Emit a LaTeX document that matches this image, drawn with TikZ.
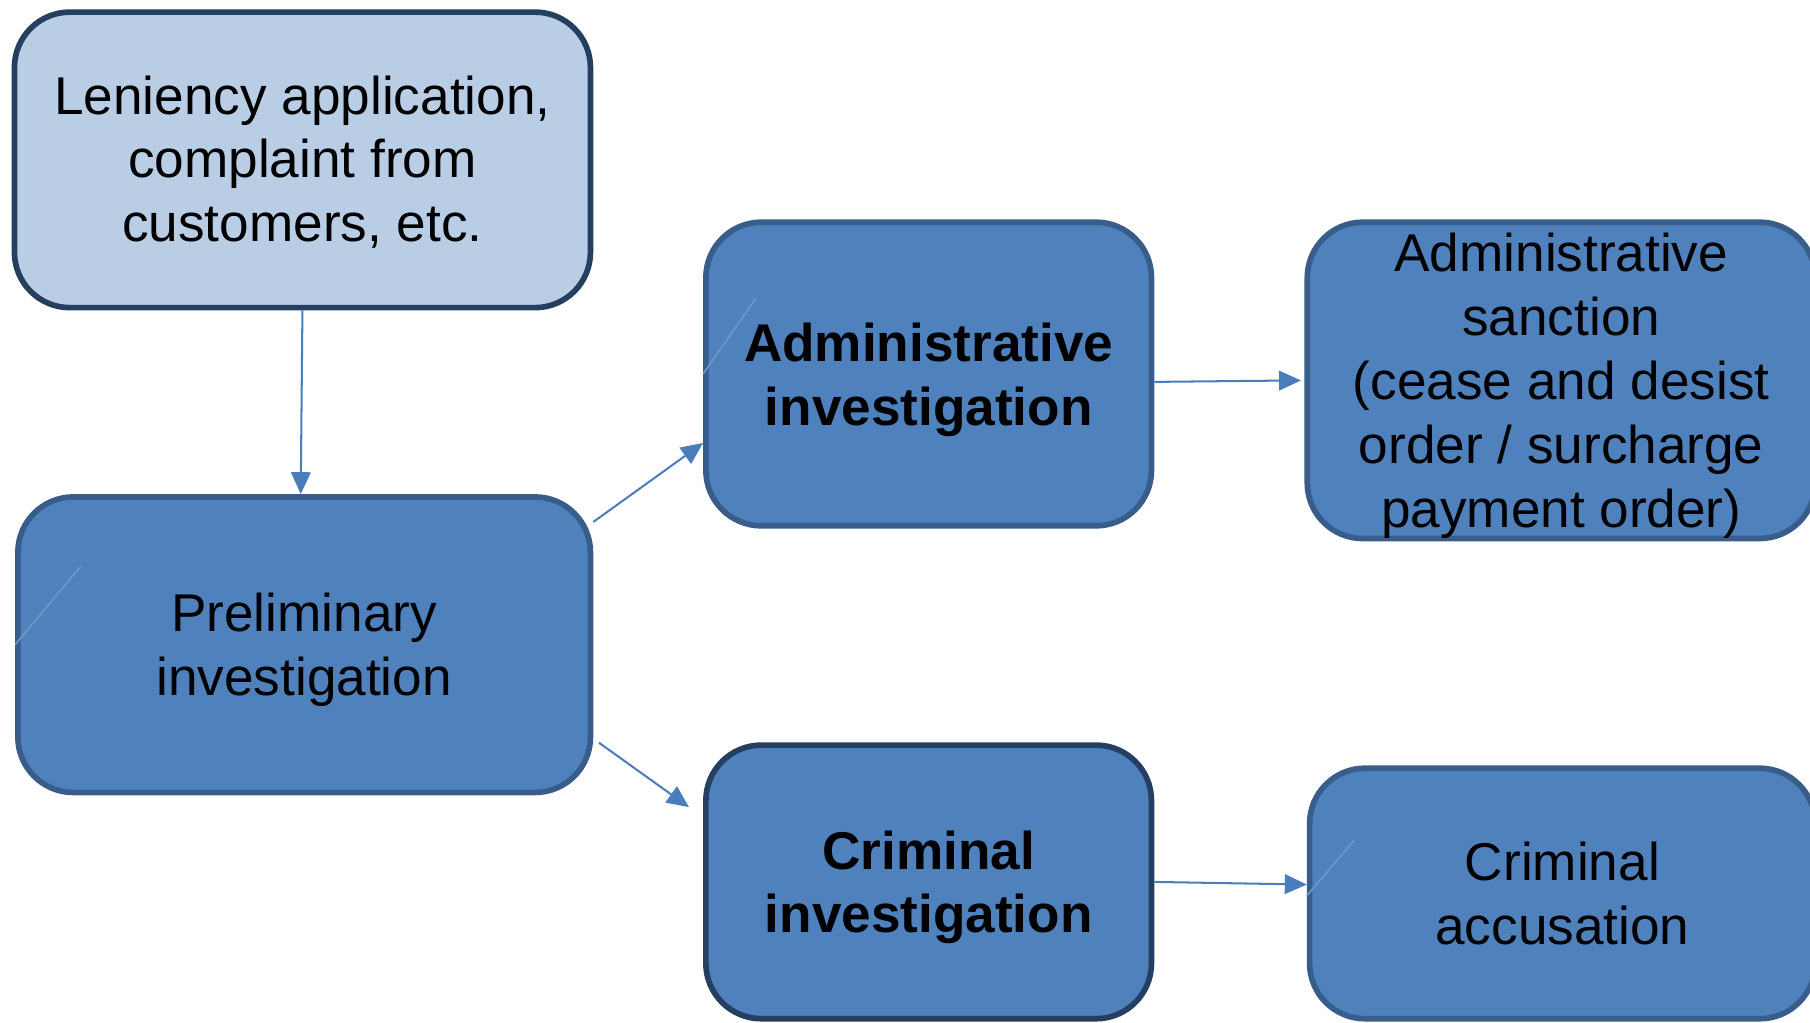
\documentclass[tikz,border=0pt]{standalone}
\usepackage{fontspec}
\setmainfont{Liberation Sans}
\usepackage{tikz}
\usetikzlibrary{arrows.meta}

\definecolor{boxblue}{HTML}{4F81BD}
\definecolor{paleblue}{HTML}{B9CDE5}
\definecolor{edgedark}{HTML}{243F60}
\definecolor{edgemid}{HTML}{385D8A}
\definecolor{arrowblue}{HTML}{4A7EBB}
\newcommand{\boxfont}{\fontsize{13.1}{15.75}\selectfont}
\newcommand{\topgap}[1][12.2pt]{\rule{0pt}{#1}}

\begin{document}
\begin{tikzpicture}[stage/.style={shape=rectangle,rounded corners=0.48cm,draw=edgemid,fill=boxblue,line width=1.4pt,inner sep=0pt,align=center,font=\boxfont},
flow/.style={draw=arrowblue,line width=0.5pt,-{Triangle[length=0.19cm,width=0.17cm]}},
faint/.style={draw=arrowblue!80!white,line width=0.4pt}]
\useasboundingbox (0,0) rectangle (15.68,-8.86);
\path (2.62,-1.385) node (lenapp) [stage,fill=paleblue,draw=edgedark,minimum width=4.99cm,minimum height=2.56cm] {\topgap[10.6pt]Leniency application,\\complaint from\\customers, etc.};
\path (2.635,-5.585) node (prelim) [stage,minimum width=4.96cm,minimum height=2.56cm] {\topgap Preliminary\\investigation};
\path (8.045,-3.24) node (admininv) [stage,minimum width=3.86cm,minimum height=2.63cm] {\topgap\bfseries Administrative\\\bfseries investigation};
\path (13.525,-3.295) node (adminsan) [stage,minimum width=4.40cm,minimum height=2.74cm] {\topgap Administrative\\sanction\\(cease and desist\\order / surcharge\\payment order)};
\path (8.045,-7.64) node (crimeinv) [stage,draw=edgedark,minimum width=3.86cm,minimum height=2.37cm] {\topgap\bfseries Criminal\\\bfseries investigation};
\path (13.535,-7.74) node (crimeacc) [stage,minimum width=4.38cm,minimum height=2.17cm] {Criminal\\accusation};

\draw [flow] (lenapp.south) to ([xshift=-0.03cm]prelim.north);
\draw [flow] (prelim.23) to (admininv.197);
\draw [flow,shorten <=0.06cm,shorten >=0.15cm] (prelim.342) to (crimeinv.164);
\draw [flow,shorten >=0.03cm] (admininv.358) to (adminsan.west);
\draw [flow] (crimeinv.east) to (crimeacc.178);

\draw [faint] (prelim.west) -- ++(0.57,0.68);
\draw [faint] (admininv.west) -- ++(0.46,0.66);
\draw [faint] ([yshift=-0.02cm]crimeacc.west) -- ++(0.41,0.48);
\end{tikzpicture}
\end{document}
